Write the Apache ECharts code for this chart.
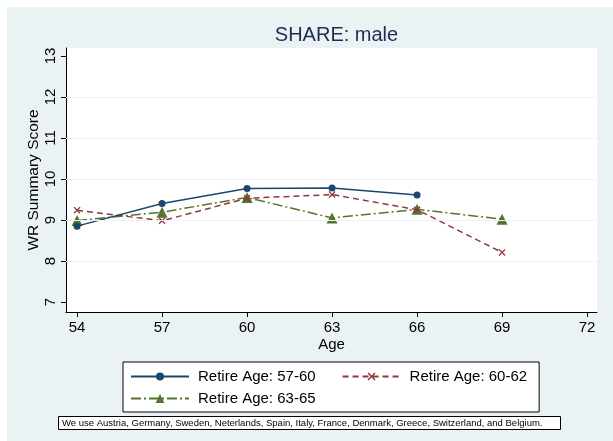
<!DOCTYPE html>
<html>
<head>
<meta charset="utf-8">
<script src="https://cdn.jsdelivr.net/npm/echarts@6/dist/echarts.min.js"></script>
<style>
  html, body { margin: 0; padding: 0; background: #fff; }
  #chart { width: 613px; height: 441px; }
</style>
</head>
<body>
<div id="chart"></div>
<script>
// Word-recall summary score by age, SHARE male sample
const ages = [54, 57, 60, 63, 66, 69];
const xTicks = [54, 57, 60, 63, 66, 69, 72];
const yTicks = [7, 8, 9, 10, 11, 12, 13];
const yGrid = [8, 9, 10, 11, 12];
const retire5760 = [8.85, 9.40, 9.77, 9.78, 9.61, null];
const retire6062 = [9.24, 8.98, 9.53, 9.62, 9.25, 8.21];
const retire6365 = [8.99, 9.19, 9.55, 9.05, 9.26, 9.02];

const seriesNames = ['Retire Age: 57-60', 'Retire Age: 60-62', 'Retire Age: 63-65'];
const noteText = 'We use Austria, Germany, Sweden, Neterlands, Spain, Italy, France, Denmark, Greece, Switzerland, and Belgium.';

const FONT = '"Liberation Sans", Arial, Helvetica, sans-serif';
const NAVY = '#1a476f', MAROON = '#90353b', FOREST = '#55752f';
const CROSS = 'path://M0,1.3L1.3,0L5,3.7L8.7,0L10,1.3L6.3,5L10,8.7L8.7,10L5,6.3L1.3,10L0,8.7L3.7,5Z';

const pairs = vals => ages.map((a, i) => [a, vals[i]]).filter(p => p[1] !== null);

const legendText = { fontFamily: FONT, fontSize: 15, color: '#000', padding: [0, 0, 0, 4] };

const chart = echarts.init(document.getElementById('chart'), null, { renderer: 'canvas' });
chart.setOption({
  animation: false,
  backgroundColor: '#ffffff',
  textStyle: { fontFamily: FONT },
  graphic: [{
    type: 'rect', z: -10, silent: true,
    shape: { x: 7, y: 7, width: 606, height: 434 },
    style: { fill: '#eaf2f3' }
  }],
  title: [{
    text: 'SHARE: male',
    left: 331.5, textAlign: 'center', top: 20,
    textStyle: { fontFamily: FONT, fontSize: 20, fontWeight: 'normal', color: '#1e2d53' }
  }, {
    text: noteText,
    left: 58, top: 416,
    padding: [2, 18, 2, 4],
    borderColor: '#000', borderWidth: 1, backgroundColor: '#fff',
    textStyle: { fontFamily: FONT, fontSize: 9.5, fontWeight: 'normal', color: '#000' }
  }],
  grid: {
    left: 66, right: 16, top: 48, bottom: 129,
    show: true, backgroundColor: '#fff', borderWidth: 0
  },
  legend: [{
    // first row, with the frame around both rows
    left: 123, top: 362,
    padding: [7, 12, 28, 7],
    itemGap: 26,
    itemWidth: 58, itemHeight: 10,
    backgroundColor: '#fff', borderColor: '#000', borderWidth: 1, borderRadius: 0,
    textStyle: legendText,
    data: [seriesNames[0], seriesNames[1]]
  }, {
    // second row
    left: 123, top: 391,
    padding: [0, 0, 0, 7],
    z: 5,
    itemWidth: 58, itemHeight: 11,
    backgroundColor: 'transparent', borderWidth: 0,
    textStyle: legendText,
    data: [seriesNames[2]]
  }],
  xAxis: {
    type: 'value', min: 53.61, max: 72.35,
    name: 'Age', nameLocation: 'middle', nameGap: 25, nameMoveOverlap: false,
    nameTextStyle: { fontFamily: FONT, fontSize: 15, color: '#000' },
    axisLine: { show: true, lineStyle: { color: '#000', width: 1 } },
    axisTick: { show: true, length: 5, customValues: xTicks, lineStyle: { color: '#000' } },
    axisLabel: { customValues: xTicks, margin: 8, fontFamily: FONT, fontSize: 15, color: '#000' },
    splitLine: { show: false }
  },
  yAxis: {
    type: 'value', min: 6.756, max: 13.195,
    name: 'WR Summary Score', nameLocation: 'middle', nameGap: 24, nameMoveOverlap: false,
    nameTextStyle: { fontFamily: FONT, fontSize: 15.5, color: '#000' },
    axisLine: { show: true, lineStyle: { color: '#000', width: 1 } },
    axisTick: { show: true, length: 5, customValues: yTicks, lineStyle: { color: '#000' } },
    axisLabel: { customValues: yTicks, rotate: 90, margin: 8, fontFamily: FONT, fontSize: 15, color: '#000' },
    splitLine: { show: false }
  },
  series: [{
    // horizontal reference lines at the inner y ticks
    type: 'line', data: [], silent: true, z: 1,
    markLine: {
      silent: true, symbol: 'none', label: { show: false },
      lineStyle: { color: '#eaf2f3', width: 1.2, type: 'solid' },
      data: yGrid.map(v => ({ yAxis: v }))
    }
  }, {
    name: seriesNames[0], type: 'line', z: 4,
    data: pairs(retire5760),
    symbol: 'circle', symbolSize: 7,
    itemStyle: { color: NAVY },
    lineStyle: { color: NAVY, width: 1.5, type: 'solid' }
  }, {
    name: seriesNames[1], type: 'line', z: 3,
    data: pairs(retire6062),
    symbol: CROSS, symbolSize: 7,
    itemStyle: { color: MAROON },
    lineStyle: { color: MAROON, width: 1.5, type: [6, 4] }
  }, {
    name: seriesNames[2], type: 'line', z: 2,
    data: pairs(retire6365),
    symbol: 'triangle', symbolSize: 11,
    itemStyle: { color: FOREST },
    lineStyle: { color: FOREST, width: 1.5, type: [10, 3, 2, 3] }
  }]
});
</script>
</body>
</html>
